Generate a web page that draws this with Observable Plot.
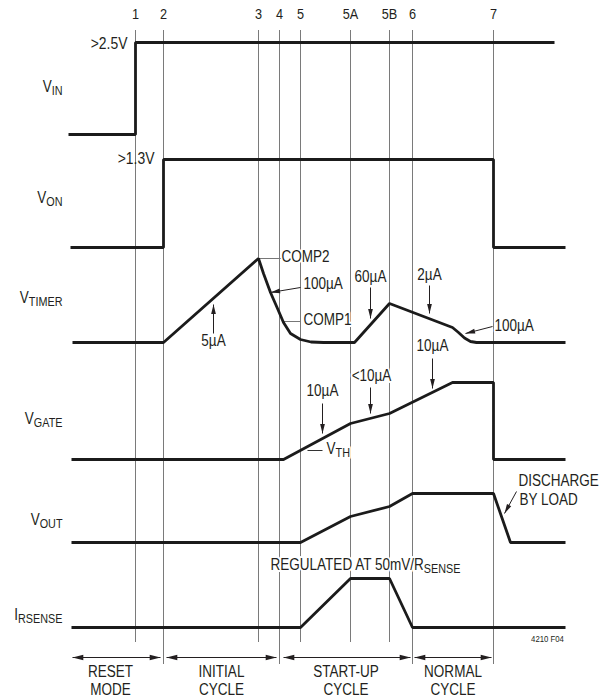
<!DOCTYPE html>
<html>
<head>
<meta charset="utf-8">
<script src="https://cdn.jsdelivr.net/npm/d3@7"></script>
<script src="https://cdn.jsdelivr.net/npm/@observablehq/plot@0.6"></script>
<style>
  html, body { margin: 0; padding: 0; background: #fff; }
  #chart svg { display: block; }
</style>
</head>
<body>
<div id="chart"></div>
<script>
// ---- Event markers (time in arbitrary units) ----
const eventNames  = ["1", "2", "3", "4", "5", "5A", "5B", "6", "7"];
const eventTimes  = [13.4, 19.0, 38.0, 42.2, 46.4, 56.4, 64.2, 68.8, 85.0];
const eventBottom = [5.8, 3.6, 5.8, 3.6, 5.8, 5.8, 5.8, 3.6, 3.6];
const eventTop = 67;

// ---- Signals: lane baselines, label positions ----
const signalNames = ["V_IN", "V_ON", "V_TIMER", "V_GATE", "V_OUT", "I_RSENSE"];
const laneBase    = [56.6, 45.3, 35.8, 24.1, 15.8, 7.3];
const labelY      = [61.2, 50.1, 40.1, 28.0, 17.9, 8.4];

// ---- Waveforms: times and levels above the lane baseline ----
const vinT   = [0, 13.4, 13.4, 97.2];
const vinL   = [0, 0, 9.2, 9.2];
const vonT   = [0.4, 19, 19, 85, 85, 99.4];
const vonL   = [0, 0, 8.8, 8.8, 0, 0];
const timerT = [0.8, 19, 38, 39, 40.4, 41.8, 43, 44.4, 46.4, 48.5, 51, 57.2, 64.2, 76.8, 78, 79.2, 80.4, 81.6, 99.4];
const timerL = [0, 0, 8.4, 6.9, 5.0, 3.4, 2.0, 0.9, 0.3, 0.05, 0, 0, 3.9, 1.5, 1.0, 0.45, 0.1, 0, 0];
const gateT  = [0.6, 43, 56.4, 64.2, 76.8, 85, 85, 99.4];
const gateL  = [0, 0, 3.6, 4.6, 7.7, 7.7, 0, 0];
const outT   = [0.6, 46.4, 56.4, 64.2, 68.8, 85, 88.4, 99.4];
const outL   = [0, 0, 2.6, 3.6, 4.9, 4.9, 0, 0];
const senseT = [0.6, 46.4, 56.4, 64.2, 68.8, 99.4];
const senseL = [0, 0, 4.9, 4.9, 0, 0];
const waveT = [vinT, vonT, timerT, gateT, outT, senseT];
const waveL = [vinL, vonL, timerL, gateL, outL, senseL];

// ---- Annotation labels ----
const noteText = ["5µA", "100µA", "COMP2", "COMP1", "60µA", "2µA", "100µA", "10µA", "<10µA", "10µA", "V_TH", "DISCHARGE", "BY LOAD", "REGULATED AT 50mV/R_SENSE"];
const noteX    = [29, 47.0, 42.6, 47.0, 60.4, 72.2, 85.2, 50.8, 60.6, 72.8, 51.6, 90.0, 90.2, 40.4];
const noteY    = [35.8, 41.5, 44.2, 37.9, 42.2, 42.4, 37.3, 30.8, 32.3, 35.3, 25.0, 21.8, 19.9, 13.4];
const noteAnchor = ["middle", "start", "start", "start", "middle", "middle", "start", "middle", "middle", "middle", "start", "start", "start", "start"];

// ---- Level labels ----
const levelText = [">2.5V", ">1.3V"];
const levelX = [11.8, 17.2];
const levelY = [65.5, 54.0];

// ---- Annotation arrows (tail -> head) ----
const arrowX1 = [29, 46.4, 60.4, 72.2, 84.8, 50.8, 60.4, 72.8, 89.6];
const arrowY1 = [36.7, 41.3, 41.3, 41.5, 37.4, 29.7, 31.3, 34.2, 20.9];
const arrowX2 = [29, 40.4, 60.4, 72.2, 79.4, 50.8, 60.4, 72.8, 87.2];
const arrowY2 = [39.6, 40.8, 38.2, 38.7, 36.7, 26.7, 28.7, 31.2, 18.7];

// ---- Reference ticks (COMP2, COMP1, V_TH) ----
const tickX1 = [38, 43, 47.8];
const tickX2 = [42.6, 46.4, 50.8];
const tickY  = [44.2, 37.9, 25.0];
const tickColor = ["#777", "#777", "#333"];

// ---- Phase spans at the bottom ----
const phaseLine1 = ["RESET", "INITIAL", "START-UP", "NORMAL"];
const phaseLine2 = ["MODE", "CYCLE", "CYCLE", "CYCLE"];
const phaseStart = [0.8, 19.6, 43.0, 69.2];
const phaseEnd   = [18.4, 41.6, 68.4, 84.6];
const phaseMid   = [8.4, 30.6, 55.5, 76.9];
const phaseArrowY = 4.3;
const phaseY1 = 2.7, phaseY2 = 0.9;

const figNote = "4210 F04";
const figNoteX = 95.8, figNoteY = 6.0;

// ---- Build tables ----
const W = 608, H = 700;
const xDomain = [-13.6, 108], yDomain = [0, 70];
const pxX = W / (xDomain[1] - xDomain[0]);
const pxY = H / (yDomain[1] - yDomain[0]);

const waveRows = signalNames.flatMap((s, i) =>
  waveT[i].map((t, j) => ({signal: s, t, v: laneBase[i] + waveL[i][j]})));
const events = eventNames.map((n, i) => ({n, t: eventTimes[i], b: eventBottom[i]}));
const labels = signalNames.map((s, i) => ({s, y: labelY[i]}));
const notes = noteText.map((s, i) => ({s, x: noteX[i], y: noteY[i], a: noteAnchor[i]}));
const angle = (x1, y1, x2, y2) => Math.atan2((x2 - x1) * pxX, (y2 - y1) * pxY) * 180 / Math.PI;
const arrows = arrowX1.map((x1, i) => ({x1, y1: arrowY1[i], x2: arrowX2[i], y2: arrowY2[i],
  rot: angle(x1, arrowY1[i], arrowX2[i], arrowY2[i])}));
const ticks = tickX1.map((x1, i) => ({x1, x2: tickX2[i], y: tickY[i], c: tickColor[i]}));
const phases = phaseLine1.map((s, i) => ({s, s2: phaseLine2[i], a: phaseStart[i], b: phaseEnd[i], m: phaseMid[i]}));
const phaseHeads = phases.flatMap(p => [
  {x: p.a, y: phaseArrowY, rot: -90},
  {x: p.b, y: phaseArrowY, rot: 90}
]);

// Narrow filled arrowhead, tip at origin, pointing up
const headSymbol = {
  draw(context, size) {
    const r = Math.sqrt(size / Math.PI);
    const L = 2.4 * r, w = 0.6 * r;
    context.moveTo(0, 0);
    context.lineTo(w, L);
    context.lineTo(-w, L);
    context.closePath();
  }
};

const FONT = "'Liberation Sans', Arial, Helvetica, sans-serif";
const INK = "#231f20";
const FS = 16.5;
const DY = 3;

const plot = Plot.plot({
  width: W, height: H, margin: 0,
  x: {domain: xDomain, axis: null},
  y: {domain: yDomain, axis: null},
  style: {fontFamily: FONT, background: "#fff", color: INK},
  marks: [
    Plot.ruleX(events, {x: "t", y1: eventTop, y2: "b", stroke: "#7a7a7a", strokeWidth: 1}),
    Plot.text(events, {x: "t", y: 68.5, dy: DY, text: "n", fontSize: 15.5, fill: INK}),
    Plot.link(ticks, {x1: "x1", x2: "x2", y1: "y", y2: "y", stroke: "c", strokeWidth: 1}),
    Plot.text(notes, {filter: d => d.a === "start", x: "x", y: "y", dy: DY, text: "s", textAnchor: "start", fontSize: FS, fill: INK, stroke: "white", strokeWidth: 4}),
    Plot.text(notes, {filter: d => d.a === "middle", x: "x", y: "y", dy: DY, text: "s", textAnchor: "middle", fontSize: FS, fill: INK, stroke: "white", strokeWidth: 4}),
    Plot.line(waveRows, {x: "t", y: "v", z: "signal", stroke: "#1b1b1b", strokeWidth: 2.8, strokeLinejoin: "miter", strokeLinecap: "butt"}),
    Plot.link(arrows, {x1: "x1", y1: "y1", x2: "x2", y2: "y2", stroke: INK, strokeWidth: 1}),
    Plot.dot(arrows, {x: "x2", y: "y2", symbol: headSymbol, r: 4, rotate: "rot", fill: INK, stroke: "none"}),
    Plot.text(labels, {x: -1.2, y: "y", dy: DY, text: "s", textAnchor: "end", fontSize: FS, fill: INK}),
    Plot.text(levelText.map((s, i) => ({s, x: levelX[i], y: levelY[i]})), {x: "x", y: "y", dy: DY, text: "s", textAnchor: "end", fontSize: 17, fill: INK}),
    Plot.link(phases, {x1: "a", x2: "b", y1: phaseArrowY, y2: phaseArrowY, stroke: INK, strokeWidth: 1}),
    Plot.dot(phaseHeads, {x: "x", y: "y", symbol: headSymbol, r: 4.5, rotate: "rot", fill: INK, stroke: "none"}),
    Plot.text(phases, {x: "m", y: phaseY1, dy: DY, text: "s", fontSize: FS, fill: INK}),
    Plot.text(phases, {x: "m", y: phaseY2, dy: DY, text: "s2", fontSize: FS, fill: INK}),
    Plot.text([figNote], {x: figNoteX, y: figNoteY, dy: 1, text: d => d, fontSize: 9.5, fill: INK})
  ]
});

// Turn "A_B" into A with subscript B, and condense every text horizontally
const SX = 0.82;
d3.select(plot).selectAll("text").each(function() {
  const el = this;
  if (el.children.length === 0 && el.textContent.includes("_")) {
    const [main, sub] = el.textContent.split("_");
    el.textContent = "";
    d3.select(el).append("tspan").text(main);
    d3.select(el).append("tspan").attr("dy", "0.3em").attr("font-size", "80%").text(sub);
  }
  let tr = el.getAttribute("transform") || "";
  const x = el.getAttribute("x"), y = el.getAttribute("y");
  if (x !== null || y !== null) {
    tr = `translate(${+x || 0},${+y || 0}) ` + tr;
    el.removeAttribute("x");
    el.removeAttribute("y");
  }
  el.setAttribute("transform", `${tr} scale(${SX},1)`);
});

document.getElementById("chart").appendChild(plot);
</script>
</body>
</html>
